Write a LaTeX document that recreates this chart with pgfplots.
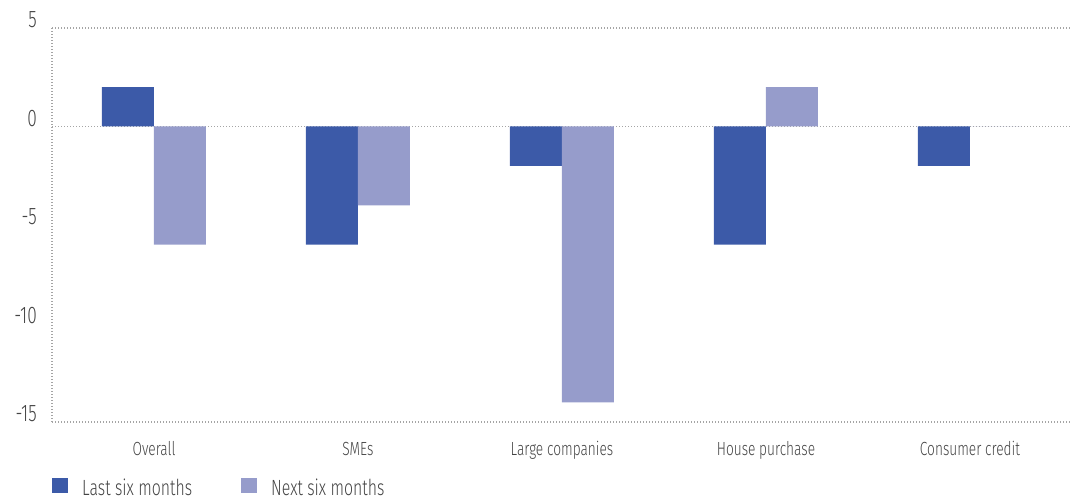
\documentclass[border=0pt]{standalone}
\usepackage{fontspec}
\setmainfont{Fira Sans Light}[FakeStretch=0.72]
\usepackage{pgfplots}
\pgfplotsset{compat=1.18}

\definecolor{lastsix}{RGB}{60,90,168}
\definecolor{nextsix}{RGB}{150,156,203}
\definecolor{labeltext}{RGB}{68,68,68}
\definecolor{gridgray}{RGB}{165,165,165}

\begin{document}
\begin{tikzpicture}
\begin{axis}[
  name=main,
  at={(0pt,0pt)}, anchor=south west,
  scale only axis,
  width=1020pt, height=394pt,
  xmin=-0.5, xmax=4.5,
  ymin=-15, ymax=5,
  ybar=0pt, bar width=52pt,
  axis line style={draw=none},
  tick style={draw=none},
  xtick={0,1,2,3,4},
  xticklabels={Overall,SMEs,Large companies,House purchase,Consumer credit},
  ytick={-15,-10,-5,0,5},
  yticklabels={-15,-10,-5,0,5},
  extra y ticks={-15,0,5},
  extra y tick labels={},
  extra x ticks={-0.5},
  extra x tick labels={},
  extra tick style={grid=major},
  major grid style={draw=gridgray, line width=1.1pt, dash pattern=on 1.1pt off 1.9pt},
  xticklabel style={anchor=base, inner sep=0pt, yshift=-29pt,
    font=\fontsize{19}{23}\selectfont, text=labeltext},
  yticklabel style={anchor=base east, inner sep=0pt, xshift=-15pt,
    font=\fontsize{24}{28}\selectfont, text=labeltext},
  legend columns=2,
  legend style={at={(axis description cs:0,0)}, anchor=north west,
    yshift=-55pt, draw=none, fill=none, inner sep=0pt,
    font=\fontsize{22}{26}\selectfont, text=labeltext,
    /tikz/every odd column/.append style={column sep=12pt},
    /tikz/every even column/.append style={column sep=47pt}},
  legend cell align=left,
]
\addplot[fill=lastsix, draw=none,
  legend image code/.code={\fill[lastsix] (0pt,-5pt) rectangle (16pt,10.5pt);}]
  coordinates {(0,2) (1,-6) (2,-2) (3,-6) (4,-2)};
\addlegendentry{Last six months}
\addplot[fill=nextsix, draw=none,
  legend image code/.code={\fill[nextsix] (0pt,-5pt) rectangle (16pt,10.5pt);}]
  coordinates {(0,-6) (1,-4) (2,-14) (3,2) (4,0)};
\addlegendentry{Next six months}
\end{axis}
\pgfresetboundingbox
\useasboundingbox (main.south west) ++(-52pt,-80pt) rectangle ++(1072pt,502pt);
\end{tikzpicture}
\end{document}
